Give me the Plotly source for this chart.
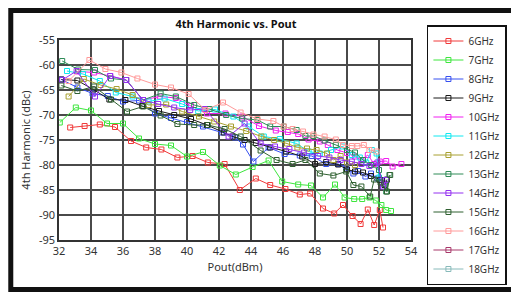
import plotly.graph_objects as go

# ---- data (Pout in dBm, 4th harmonic in dBc) ----
names = ["6GHz", "7GHz", "8GHz", "9GHz", "10GHz", "11GHz", "12GHz",
         "13GHz", "14GHz", "15GHz", "16GHz", "17GHz", "18GHz"]

x_6 = [32.7, 33.6, 34.55, 35.5, 36.5, 37.45, 38.4, 39.4, 40.35, 41.3, 42.35, 43.3, 44.3,
       45.2, 46.15, 47.05, 47.7, 48.5, 49.2, 49.75, 50.35, 50.85, 51.3, 51.7, 52.05, 52.25]
y_6 = [-72.5, -72.2, -71.9, -72.4, -75.2, -76.5, -76.9, -78.5, -78.2, -79.5, -79.8, -85.0, -82.7,
       -84.0, -84.8, -85.9, -85.7, -88.7, -89.7, -88.0, -90.2, -91.8, -88.9, -92.0, -89.0, -92.5]

x_7 = [32.05, 33.05, 34.0, 35.0, 36.0, 37.0, 38.0, 39.0, 40.0, 41.0, 42.05, 43.05, 44.1, 45.1,
       45.95, 46.95, 47.75, 48.5, 49.25, 49.85, 50.45, 50.95, 51.4, 51.8, 52.15, 52.45, 52.75]
y_7 = [-71.5, -68.5, -69.1, -71.7, -71.7, -74.7, -75.8, -76.1, -78.3, -77.4, -80.1, -81.9, -80.4, -79.1,
       -83.3, -83.9, -84.1, -86.5, -83.9, -86.5, -86.8, -86.8, -86.5, -87.1, -88.0, -89.0, -89.2]

x_8 = [32.15, 33.15, 34.1, 35.05, 36.0, 37.0, 38.0, 39.0, 40.0, 41.0, 42.2, 43.0, 43.5, 44.15,
       45.1, 46.1, 47.05, 47.8, 48.7, 49.45, 49.95, 50.4, 50.7, 51.15, 51.5, 51.9, 52.2, 52.35]
y_8 = [-62.9, -64.5, -65.7, -66.2, -67.3, -67.1, -69.7, -70.6, -71.4, -72.3, -73.5, -74.5, -75.9, -79.3,
       -76.5, -77.8, -78.1, -78.2, -79.8, -79.8, -80.5, -81.7, -81.2, -82.3, -81.7, -82.7, -83.0, -84.0]

x_9 = [32.15, 33.15, 34.15, 35.15, 36.15, 37.2, 38.25, 39.2, 40.25, 41.25, 42.3, 42.85, 43.6, 44.3,
       45.2, 46.2, 47.2, 48.0, 48.7, 49.45, 50.0, 50.5, 51.0, 51.5, 52.05, 52.35, 52.5]
y_9 = [-62.9, -63.1, -64.9, -66.9, -67.0, -68.2, -69.2, -70.0, -70.8, -72.0, -73.5, -74.3, -75.0, -75.6,
       -76.5, -77.3, -78.3, -79.8, -79.4, -79.9, -80.9, -81.3, -81.5, -82.2, -83.0, -84.0, -82.9]

x_10 = [33.2, 34.2, 35.2, 36.2, 37.25, 38.3, 39.3, 40.25, 41.25, 42.4, 43.45, 44.5, 45.55, 46.3,
        46.95, 47.6, 48.3, 48.8, 49.4, 50.0, 50.5, 50.9, 51.3, 51.7, 52.05, 52.45, 52.85, 53.4]
y_10 = [-61.3, -61.5, -62.2, -63.0, -67.0, -66.3, -66.6, -68.2, -69.7, -69.7, -70.3, -72.2, -73.1, -73.4,
        -73.8, -74.9, -75.3, -76.0, -77.0, -77.6, -78.3, -79.0, -78.0, -79.8, -79.3, -79.2, -80.3, -79.8]

x_11 = [32.5, 33.5, 34.55, 35.55, 36.6, 37.6, 38.6, 39.7, 40.7, 41.75, 42.9, 43.85, 44.8, 45.8,
        46.85, 47.6, 48.3, 49.0, 49.75, 50.3, 50.8, 51.2, 51.55, 51.85, 52.0]
y_11 = [-61.2, -61.8, -63.2, -65.5, -66.3, -67.3, -66.7, -67.8, -69.2, -68.9, -70.3, -72.3, -74.3, -74.8,
        -75.7, -77.3, -77.7, -77.0, -76.3, -78.0, -78.5, -79.5, -77.0, -77.7, -82.5]

x_12 = [32.6, 33.55, 34.6, 35.6, 36.6, 37.6, 38.7, 39.7, 40.75, 41.7, 42.75, 43.7, 44.65, 45.45,
        46.25, 46.9, 47.5, 48.1, 48.75, 49.15, 49.6, 50.0, 50.5]
y_12 = [-66.3, -62.8, -64.0, -64.8, -66.0, -68.0, -67.9, -69.3, -70.3, -71.3, -72.3, -73.2, -74.3, -75.0,
        -75.7, -76.5, -76.7, -77.0, -77.7, -79.0, -78.2, -79.5, -80.0]

x_13 = [32.2, 33.2, 34.25, 35.25, 36.2, 37.25, 38.35, 39.3, 40.45, 41.4, 42.45, 43.45, 44.4, 45.2,
        46.05, 46.85, 47.4, 47.9, 48.6, 49.3, 50.0, 50.5, 51.0, 51.5, 52.0, 52.45, 52.65]
y_13 = [-59.2, -60.9, -61.0, -62.7, -63.0, -67.0, -65.7, -66.3, -68.0, -68.8, -70.0, -70.7, -71.0, -72.3,
        -72.3, -73.0, -74.2, -74.2, -75.1, -76.0, -77.0, -77.5, -79.0, -80.0, -81.0, -85.3, -82.0]

x_14 = [32.2, 33.1, 34.25, 35.2, 36.2, 37.25, 38.2, 39.2, 40.2, 41.1, 42.6, 43.6, 44.6, 45.5,
        46.4, 47.3, 48.2, 48.9, 49.6, 50.3, 50.9, 51.4, 51.9, 52.25, 52.45]
y_14 = [-63.0, -61.2, -66.3, -62.2, -63.0, -67.0, -67.8, -68.5, -69.0, -68.8, -74.3, -71.7, -75.7, -76.3,
        -76.8, -77.5, -78.2, -78.5, -79.0, -79.3, -79.8, -80.2, -79.5, -84.3, -83.0]

x_15 = [32.15, 33.15, 34.2, 35.25, 36.25, 37.25, 38.35, 39.4, 40.45, 41.3, 42.35, 43.35, 44.6,
        45.6, 46.6, 47.4, 48.3, 49.15, 49.95, 50.4, 50.9, 51.45, 51.7, 52.1, 52.5, 52.7]
y_15 = [-64.1, -65.2, -64.3, -66.9, -69.3, -68.3, -70.1, -71.8, -72.0, -72.0, -72.8, -74.3, -77.1,
        -79.0, -79.8, -79.0, -81.7, -82.1, -81.3, -84.0, -84.3, -86.3, -82.9, -83.5, -85.3, -82.0]

x_16 = [32.6, 33.9, 34.9, 35.9, 36.9, 38.0, 39.0, 40.1, 41.15, 42.25, 43.35, 44.4, 45.4, 46.05,
        46.6, 47.25, 47.9, 48.6, 49.3, 49.75, 50.3, 50.65, 51.05, 51.4, 51.85]
y_16 = [-63.2, -59.0, -60.8, -61.5, -62.7, -63.9, -64.5, -65.8, -69.0, -67.5, -69.5, -70.8, -71.2, -72.3,
        -72.8, -73.3, -73.9, -74.3, -74.9, -76.0, -76.2, -76.2, -76.0, -77.0, -77.3]

# 17 GHz and 18 GHz: listed in the legend, no visible points in the plot
x_17 = [None]
y_17 = [None]
x_18 = [None]
y_18 = [None]

xs = [x_6, x_7, x_8, x_9, x_10, x_11, x_12, x_13, x_14, x_15, x_16, x_17, x_18]
ys = [y_6, y_7, y_8, y_9, y_10, y_11, y_12, y_13, y_14, y_15, y_16, y_17, y_18]

x_ticks = [32, 34, 36, 38, 40, 42, 44, 46, 48, 50, 52, 54]
y_ticks = [-55, -60, -65, -70, -75, -80, -85, -90, -95]

colors = ["#f03a3a", "#3ee63e", "#3650f0", "#1a1a1a", "#f020f0", "#10e8f0", "#a8a030",
          "#2e8b57", "#9430f0", "#2f6030", "#ff9a9a", "#a8386a", "#88baba"]

FONT = "Noto Sans"

# page has an 8px body margin, so the figure is shifted; compensate
W, H = 511, 284
ML, MR, MT, MB = 51, 106, 32, 52
PW, PH = W - ML - MR, H - MT - MB

fig = go.Figure()
for i, nm in enumerate(names):
    fig.add_trace(go.Scatter(
        x=xs[i], y=ys[i], name=nm, mode="lines+markers",
        line=dict(color=colors[i], width=1),
        marker=dict(symbol="square-open", size=5, color=colors[i], line=dict(width=1)),
        showlegend=True,
    ))

fig.update_layout(
    width=W, height=H,
    margin=dict(l=ML, r=MR, t=MT, b=MB),
    paper_bgcolor="white", plot_bgcolor="white",
    font=dict(family=FONT, size=11, color="#333333"),
    title=dict(text="<b>4th Harmonic vs. Pout</b>", x=(ML + PW / 2) / W, xanchor="center",
               y=1 - 16 / H, yanchor="middle", font=dict(size=11, color="#111111")),
    showlegend=True,
    legend=dict(x=(421 - ML) / PW, y=1 + (MT - 17) / PH, xanchor="left", yanchor="top",
                bordercolor="#111111", borderwidth=1.5, bgcolor="white",
                font=dict(size=10, color="#333333"), itemwidth=30, maxheight=400),
)
fig.update_xaxes(range=[32, 54], tickvals=x_ticks, ticktext=[str(v) for v in x_ticks],
                 showgrid=True, gridcolor="#4a4a4a", gridwidth=1.5,
                 showline=True, linecolor="#333333", linewidth=1.5, mirror=True,
                 zeroline=False, ticks="", ticklen=0,
                 title=dict(text="Pout(dBm)", standoff=6, font=dict(size=11)))
fig.update_yaxes(range=[-95, -55], tickvals=y_ticks, ticktext=[str(v) for v in y_ticks],
                 showgrid=True, gridcolor="#4a4a4a", gridwidth=1.5,
                 showline=True, linecolor="#333333", linewidth=1.5, mirror=True,
                 zeroline=False, ticks="", ticklen=0,
                 title=dict(text="4th Harmonic (dBc)", standoff=6, font=dict(size=11)))

# outer frame along figure edges
fr = 2.5
fig.add_shape(type="rect", xref="paper", yref="paper",
              x0=(-ML + fr) / PW, x1=(PW + MR - fr) / PW,
              y0=(-MB + fr) / PH, y1=(PH + MT - fr) / PH,
              line=dict(color="#111111", width=5), layer="above")

fig.write_html("out.html")
